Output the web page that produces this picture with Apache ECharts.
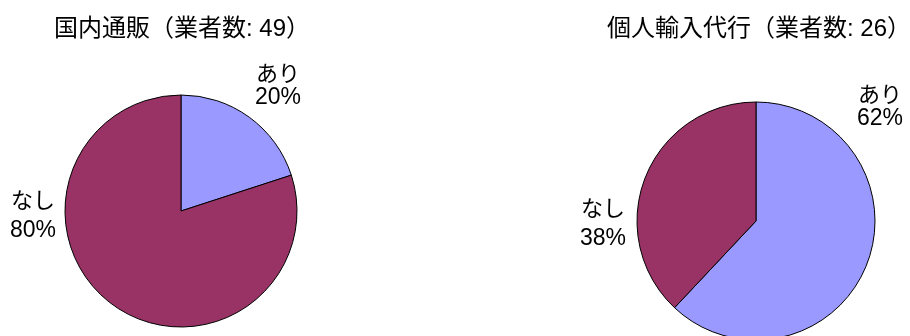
<!DOCTYPE html>
<html>
<head>
<meta charset="utf-8">
<script src="https://cdn.jsdelivr.net/npm/echarts@6/dist/echarts.min.js"></script>
<style>
  html, body { margin: 0; padding: 0; background: #fff; }
  #chart { width: 910px; height: 336px; }
</style>
</head>
<body>
<div id="chart"></div>
<script>
// Categories and shares (%) for each group of dealers
const categories = ['あり', 'なし'];
const domesticShares = [20, 80];
const importShares = [62, 38];
const titles = ['国内通販（業者数: 49）', '個人輸入代行（業者数: 26）'];

const FONT = 'Liberation Sans, Arial, Noto Sans CJK JP, sans-serif';
const colors = ['#9999FF', '#993366'];
// line spacing of the two-line slice labels, per category
const labelLineHeights = [23, 29];

// Pie layout: centre and radius of each pie, plus label offsets from the centre
const pies = [
  { center: [181, 211], radius: 116, titleX: 177, labelOffsets: [[97, -125], [-148, 5]] },
  { center: [756, 221], radius: 119, titleX: 754, labelOffsets: [[124, -114], [-153, 3]] }
];

function labelFor(i) {
  const lh = labelLineHeights[i];
  return {
    rich: {
      n: { fontFamily: FONT, fontSize: 22, color: '#000', lineHeight: lh, align: 'center' },
      v: { fontFamily: FONT, fontSize: 23, color: '#000', lineHeight: lh, align: 'center' }
    }
  };
}

function makeSeries(values, idx) {
  const p = pies[idx];
  return {
    type: 'pie',
    center: p.center,
    radius: p.radius,
    startAngle: 90,
    clockwise: true,
    animation: false,
    silent: true,
    itemStyle: { borderColor: '#000', borderWidth: 1 },
    label: {
      show: true,
      position: 'inside',
      formatter: '{n|{b}}\n{v|{c}%}'
    },
    labelLine: { show: false },
    labelLayout: function (params) {
      const off = p.labelOffsets[params.dataIndex];
      return {
        x: p.center[0] + off[0],
        y: p.center[1] + off[1],
        align: 'center',
        verticalAlign: 'middle'
      };
    },
    data: categories.map((c, i) => ({
      name: c,
      value: values[i],
      itemStyle: { color: colors[i] },
      label: labelFor(i)
    }))
  };
}

const chart = echarts.init(document.getElementById('chart'), null, { renderer: 'canvas' });
chart.setOption({
  backgroundColor: '#fff',
  title: titles.map((t, i) => ({
    text: t,
    left: pies[i].titleX,
    top: 12,
    textAlign: 'center',
    textStyle: { fontFamily: FONT, fontSize: 24, fontWeight: 'normal', color: '#000' }
  })),
  series: [makeSeries(domesticShares, 0), makeSeries(importShares, 1)]
});
</script>
</body>
</html>
